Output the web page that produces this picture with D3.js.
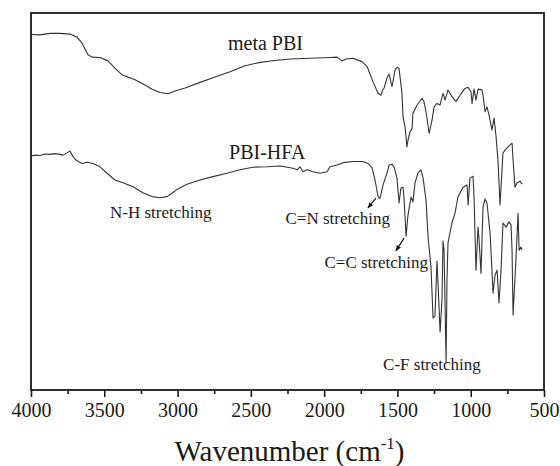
<!DOCTYPE html>
<html lang="en">
<head>
    <meta charset="UTF-8">
    <title>FTIR spectra of meta PBI and PBI-HFA</title>
    <script src="https://d3js.org/d3.v7.min.js"></script>
    <style>
        body { margin: 0; background: #fff; }
    </style>
</head>
<body>
    <svg id="ftir" width="560" height="466"></svg>

    <script>
        // wavenumber (cm-1), transmittance (a.u., 0-100)
        const metaPBI = [
            [4000,94.3],[3939,94.2],[3870,94.6],[3802,94.6],[3734,94.4],[3686,93.6],[3652,92.0],
            [3611,88.9],[3584,88.3],[3529,88.2],[3475,87.3],[3427,85.4],[3379,83.6],[3290,82.3],
            [3222,80.9],[3174,79.8],[3120,78.9],[3065,78.6],[3017,79.3],[2949,80.1],[2847,81.6],
            [2745,83.0],[2642,84.4],[2540,86.0],[2438,86.9],[2335,87.4],[2233,87.8],[2096,88.0],
            [1960,88.2],[1912,88.3],[1878,87.3],[1851,87.8],[1803,88.0],[1742,87.1],[1707,85.8],
            [1667,81.8],[1632,78.7],[1612,78.2],[1598,79.8],[1591,80.1],[1571,82.8],[1557,83.8],
            [1537,80.5],[1516,84.9],[1503,85.6],[1489,85.3],[1469,78.7],[1462,72.5],[1448,69.8],
            [1435,64.5],[1428,66.3],[1414,68.5],[1400,69.4],[1394,73.4],[1366,75.6],[1332,77.4],
            [1319,76.5],[1305,73.8],[1284,68.1],[1264,71.6],[1250,75.1],[1230,76.0],[1209,75.6],
            [1189,78.7],[1175,76.9],[1155,79.6],[1128,77.8],[1100,76.5],[1073,78.2],[1039,80.0],
            [1018,80.3],[998,79.1],[991,76.0],[977,79.8],[964,76.9],[950,79.8],[923,79.6],
            [916,78.2],[902,73.8],[889,75.1],[875,72.9],[855,69.0],[841,72.1],[827,67.2],
            [814,61.0],[800,49.1],[780,62.9],[752,64.2],[732,65.0],[718,65.5],[711,61.0],
            [698,53.8],[684,54.9],[664,55.4],[650,54.6]
        ];

        const pbiHFA = [
            [4000,62.1],[3966,62.3],[3939,62.2],[3904,62.6],[3870,62.5],[3836,62.7],[3802,62.5],
            [3782,62.3],[3754,62.9],[3734,63.4],[3713,61.9],[3693,61.0],[3679,60.6],[3652,60.1],
            [3618,60.4],[3577,60.1],[3529,59.2],[3481,57.5],[3427,55.7],[3372,55.0],[3304,53.9],
            [3236,52.3],[3174,51.3],[3120,51.0],[3072,51.3],[3038,52.2],[3004,53.2],[2936,54.6],
            [2847,55.7],[2758,56.6],[2663,57.5],[2574,58.4],[2485,59.1],[2390,59.2],[2301,59.4],
            [2212,58.8],[2185,58.4],[2165,59.2],[2144,57.9],[2117,58.4],[2076,57.9],[2028,57.5],
            [1980,57.9],[1960,59.2],[1912,59.7],[1871,60.3],[1803,60.6],[1735,60.6],[1701,60.1],
            [1673,58.9],[1653,55.7],[1632,51.3],[1619,50.8],[1598,54.4],[1571,57.6],[1557,59.7],
            [1537,59.9],[1523,59.2],[1503,56.2],[1489,49.6],[1476,53.6],[1462,53.8],[1455,50.9],
            [1441,40.8],[1428,46.4],[1407,51.2],[1394,49.9],[1380,54.9],[1360,57.6],[1339,58.4],
            [1325,56.2],[1305,50.4],[1291,40.6],[1271,32.6],[1257,19.1],[1244,19.6],[1230,34.2],
            [1223,28.4],[1209,15.4],[1196,23.9],[1189,39.5],[1182,37.1],[1168,7.4],[1162,29.2],
            [1155,39.0],[1128,44.3],[1107,46.9],[1087,51.2],[1052,53.8],[1025,54.4],[1018,49.1],
            [1005,56.2],[984,56.7],[977,50.9],[964,31.8],[950,43.2],[943,39.8],[930,31.0],
            [916,48.5],[902,50.7],[889,49.6],[868,41.6],[855,31.8],[848,25.7],[834,30.5],
            [820,31.8],[807,23.1],[793,31.8],[780,44.3],[759,43.2],[739,44.6],[725,43.8],
            [718,37.1],[711,19.9],[691,35.0],[677,46.9],[670,37.1],[657,37.9],[650,37.1]
        ];

        const majorTicks = [4000, 3500, 3000, 2500, 2000, 1500, 1000, 500];
        const minorTicks = [3750, 3250, 2750, 2250, 1750, 1250, 750];

        const seriesLabels = [
            {text: "meta PBI", x: 2656, y: 90.2},
            {text: "PBI-HFA", x: 2649, y: 61.3}
        ];
        const bandLabels = [
            {text: "N-H stretching", x: 3461, y: 45.6, anchor: "start"},
            {text: "C=N stretching", x: 1551, y: 44.0, anchor: "end"},
            {text: "C=C stretching", x: 1291, y: 32.4, anchor: "end"},
            {text: "C-F stretching", x: 1598, y: 5.3, anchor: "start"}
        ];
        const arrows = [
            {from: [1646, 50.9], to: [1701, 48.3]},
            {from: [1455, 40.3], to: [1510, 36.9]}
        ];

        const serif = "'Liberation Serif', 'Times New Roman', 'DejaVu Serif', serif";

        const svg = d3.select("#ftir"),
            width = +svg.attr("width"),
            height = +svg.attr("height"),
            margin = {top: 13, right: 16, bottom: 76, left: 31};

        const x = d3.scaleLinear()
            .domain([4000, 500])
            .range([margin.left, width - margin.right]);
        const y = d3.scaleLinear()
            .domain([0, 100])
            .range([height - margin.bottom, margin.top]);

        svg.append("defs").append("marker")
            .attr("id", "head")
            .attr("viewBox", "0 0 10 10")
            .attr("refX", 9).attr("refY", 5)
            .attr("markerWidth", 6).attr("markerHeight", 6)
            .attr("markerUnits", "userSpaceOnUse")
            .attr("orient", "auto")
            .append("path")
            .attr("d", "M0,1L10,5L0,9Z")
            .attr("fill", "#111");

        const line = d3.line()
            .x(d => x(d[0]))
            .y(d => y(d[1]));

        [metaPBI, pbiHFA].forEach(s => {
            svg.append("path")
                .datum(s)
                .attr("fill", "none")
                .attr("stroke", "#333")
                .attr("stroke-width", 1.1)
                .attr("stroke-linejoin", "round")
                .attr("d", line);
        });

        // frame
        svg.append("rect")
            .attr("x", x(4000))
            .attr("y", y(100))
            .attr("width", x(500) - x(4000))
            .attr("height", y(0) - y(100))
            .attr("fill", "none")
            .attr("stroke", "#1a1a1a")
            .attr("stroke-width", 1.8);

        const xAxis = svg.append("g")
            .attr("transform", `translate(0,${y(0)})`)
            .call(d3.axisBottom(x).tickValues(majorTicks).tickSize(7).tickPadding(6).tickSizeOuter(0).tickFormat(d3.format("d")))
            .attr("font-family", serif)
            .attr("font-size", 20);
        xAxis.select(".domain").remove();
        xAxis.selectAll("line").attr("stroke", "#1a1a1a").attr("stroke-width", 1.6);
        xAxis.selectAll("text").attr("fill", "#1a1a1a");

        const xMinor = svg.append("g")
            .attr("transform", `translate(0,${y(0)})`)
            .call(d3.axisBottom(x).tickValues(minorTicks).tickSize(4).tickSizeOuter(0).tickFormat(""));
        xMinor.select(".domain").remove();
        xMinor.selectAll("line").attr("stroke", "#1a1a1a").attr("stroke-width", 1.6);

        const title = svg.append("text")
            .attr("x", x(2250) + 2)
            .attr("y", 461)
            .attr("text-anchor", "middle")
            .attr("font-family", serif)
            .attr("font-size", 29)
            .attr("fill", "#1a1a1a");
        title.append("tspan").text("Wavenumber (cm");
        title.append("tspan").attr("font-size", 17).attr("dy", -12).text("-1");
        title.append("tspan").attr("dy", 12).text(")");

        svg.selectAll(".series-label")
            .data(seriesLabels)
            .enter().append("text")
            .attr("class", "series-label")
            .attr("x", d => x(d.x))
            .attr("y", d => y(d.y))
            .attr("font-family", serif)
            .attr("font-size", 20)
            .attr("fill", "#1a1a1a")
            .text(d => d.text);

        svg.selectAll(".band-label")
            .data(bandLabels)
            .enter().append("text")
            .attr("class", "band-label")
            .attr("x", d => x(d.x))
            .attr("y", d => y(d.y))
            .attr("text-anchor", d => d.anchor)
            .attr("font-family", serif)
            .attr("font-size", 17)
            .attr("fill", "#1a1a1a")
            .text(d => d.text);

        svg.selectAll(".arrow")
            .data(arrows)
            .enter().append("line")
            .attr("class", "arrow")
            .attr("x1", d => x(d.from[0]))
            .attr("y1", d => y(d.from[1]))
            .attr("x2", d => x(d.to[0]))
            .attr("y2", d => y(d.to[1]))
            .attr("stroke", "#111")
            .attr("stroke-width", 1.2)
            .attr("marker-end", "url(#head)");
    </script>
</body>
</html>
